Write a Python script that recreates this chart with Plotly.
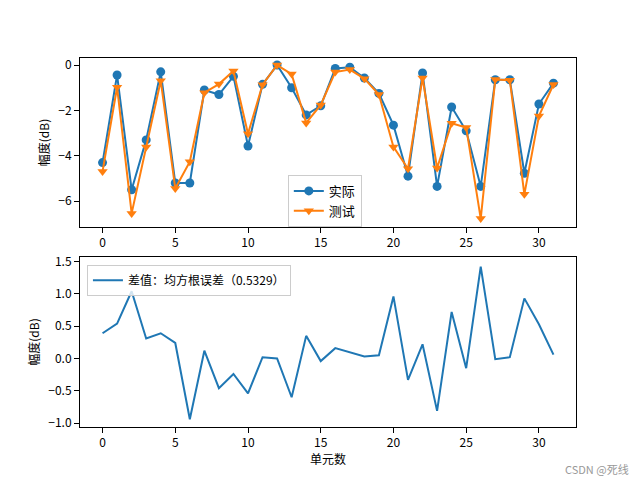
import plotly.graph_objects as go

x = list(range(32))
actual = [-4.30, -0.44, -5.50, -3.30, -0.30, -5.20, -5.20, -1.10, -1.30, -0.50,
          -3.57, -0.85, 0.00, -1.00, -2.20, -1.80, -0.15, -0.10, -0.57, -1.25,
          -2.65, -4.90, -0.35, -5.35, -1.85, -2.90, -5.35, -0.65, -0.65, -4.77,
          -1.72, -0.80]
test = [-4.69, -0.98, -6.54, -3.61, -0.69, -5.44, -4.26, -1.22, -0.84, -0.26,
        -3.03, -0.87, 0.00, -0.40, -2.55, -1.76, -0.31, -0.20, -0.60, -1.30,
        -3.61, -4.57, -0.57, -4.54, -2.57, -2.75, -6.77, -0.64, -0.67, -5.70,
        -2.25, -0.86]
diff = [0.39, 0.54, 1.04, 0.31, 0.39, 0.24, -0.94, 0.12, -0.46, -0.24,
        -0.54, 0.02, 0.00, -0.60, 0.35, -0.04, 0.16, 0.10, 0.03, 0.05,
        0.96, -0.33, 0.22, -0.81, 0.72, -0.15, 1.42, -0.01, 0.02, 0.93,
        0.53, 0.06]
xticks = [0, 5, 10, 15, 20, 25, 30]
top_yticks = [0, -2, -4, -6]
bot_yticks = [-1.0, -0.5, 0.0, 0.5, 1.0, 1.5]
rms_label = "差值：均方根误差（0.5329）"

BLUE = "#1f77b4"
ORANGE = "#ff7f0e"
FONT = "Noto Sans CJK SC"

fig = go.Figure()
fig.add_trace(go.Scatter(x=x, y=actual, mode="lines+markers", name="实际",
                         line=dict(color=BLUE, width=2),
                         marker=dict(symbol="circle", size=9, color=BLUE),
                         xaxis="x", yaxis="y", legend="legend"))
fig.add_trace(go.Scatter(x=x, y=test, mode="lines+markers", name="测试",
                         line=dict(color=ORANGE, width=2),
                         marker=dict(symbol="triangle-down", size=9, color=ORANGE),
                         xaxis="x", yaxis="y", legend="legend"))
fig.add_trace(go.Scatter(x=x, y=diff, mode="lines", name=rms_label,
                         line=dict(color=BLUE, width=2),
                         xaxis="x2", yaxis="y2", legend="legend2"))

axis_common = dict(showline=True, linecolor="black", linewidth=1, mirror=True,
                   ticks="outside", ticklen=5, tickcolor="black", showgrid=False,
                   zeroline=False, tickfont=dict(family=FONT, size=12, color="black"))

fig.update_layout(
    width=640, height=480,
    margin=dict(l=80, r=64, t=58, b=53),
    paper_bgcolor="white", plot_bgcolor="white",
    font=dict(family=FONT, size=12, color="black"),
    xaxis=dict(domain=[0, 1], range=[-1.55, 32.55], tickvals=xticks, anchor="y", **axis_common),
    yaxis=dict(domain=[0.542, 1], range=[-7.14, 0.31], tickvals=top_yticks,
               title=dict(text="幅度(dB)", font=dict(family=FONT, size=12), standoff=6),
               anchor="x", **axis_common),
    xaxis2=dict(domain=[0, 1], range=[-1.55, 32.55], tickvals=xticks, anchor="y2",
                title=dict(text="单元数", font=dict(family=FONT, size=12), standoff=4),
                **axis_common),
    yaxis2=dict(domain=[0, 0.4607], range=[-1.06, 1.57], tickvals=bot_yticks,
                tickformat=".1f",
                title=dict(text="幅度(dB)", font=dict(family=FONT, size=12), standoff=6),
                anchor="x2", **axis_common),
    legend=dict(x=0.419, y=0.683, xanchor="left", yanchor="top",
                bgcolor="rgba(255,255,255,0.8)", bordercolor="#cccccc", borderwidth=1,
                font=dict(family=FONT, size=13), tracegroupgap=0, itemwidth=30),
    legend2=dict(x=0.014, y=0.44, xanchor="left", yanchor="top",
                 bgcolor="rgba(255,255,255,0.8)", bordercolor="#cccccc", borderwidth=1,
                 font=dict(family=FONT, size=12), itemwidth=30),
    showlegend=True,
    annotations=[dict(text="CSDN @死线", xref="paper", yref="paper", x=1.11, y=-0.115,
                      xanchor="right", yanchor="middle", showarrow=False,
                      font=dict(family=FONT, size=11, color="#999999"))],
)

fig.write_html("out.html")
